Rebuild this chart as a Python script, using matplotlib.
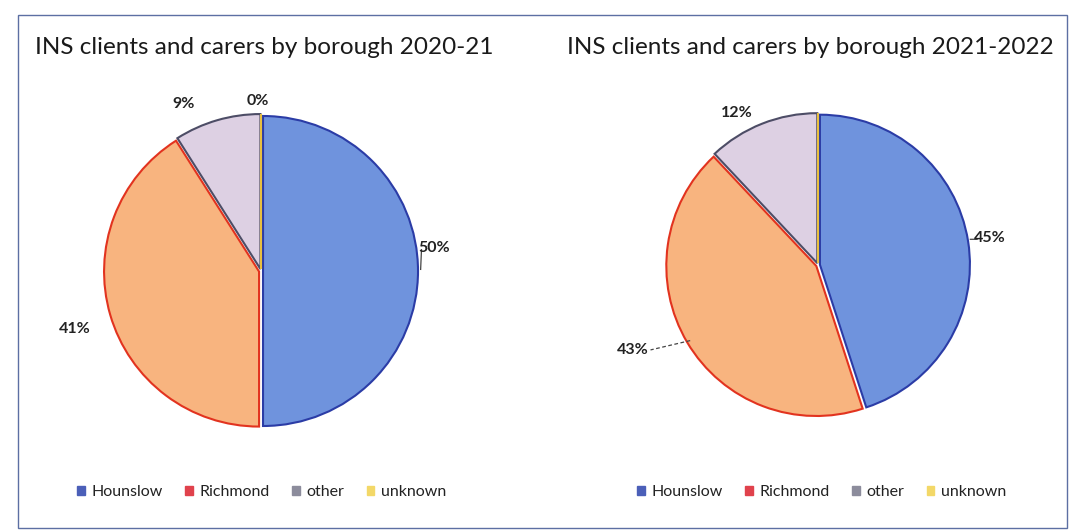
import numpy as np
import matplotlib
matplotlib.use("Agg")
import matplotlib.pyplot as plt
from matplotlib.patches import Patch, Rectangle

categories = ["Hounslow", "Richmond", "other", "unknown"]
titles = ["INS clients and carers by borough 2020-21",
          "INS clients and carers by borough 2021-2022"]
values_2020 = [50, 41, 9, 0]
values_2021 = [45, 43, 12, 0]
labels_2020 = ["50%", "41%", "9%", "0%"]
labels_2021 = ["45%", "43%", "12%", ""]

face_colors = ["#6f93dd", "#f8b47f", "#ddd0e3", "#f7dc7a"]
edge_colors = ["#2b3ca6", "#e2331f", "#4d4d66", "#e8c040"]
legend_colors = ["#4b5fb8", "#e0424c", "#8c8c9c", "#f3d868"]

W, H = 1070, 530
fig = plt.figure(figsize=(W / 100, H / 100), dpi=100)
plt.rcParams['font.family'] = ['Lato', 'DejaVu Sans']

# outer frame
fig.patches.append(Rectangle((18 / W, 2 / H), (1067 - 18) / W, (515 - 2) / H,
                             transform=fig.transFigure, fill=False,
                             edgecolor="#5c6fa3", linewidth=1.0))

pies = [
    dict(values=values_2020, labels=labels_2020, title=titles[0],
         cx=261, cy=271, r=155, title_x=35,
         ldist=[1.13, 1.26, 1.19, 1.1], lshift=[7.5, 1, 8.6, 1],
         leader=[True, False, False, False], legend_x=262),
    dict(values=values_2021, labels=labels_2021, title=titles[1],
         cx=818, cy=265, r=150, title_x=567,
         ldist=[1.16, 1.36, 1.15, 1.1], lshift=[0, -6, 6.4, 0],
         leader=[True, True, False, False], legend_x=822),
]

for p in pies:
    half = 230
    ax = fig.add_axes([(p["cx"] - half) / W, (H - p["cy"] - half) / H,
                       2 * half / W, 2 * half / H])
    lim = half / p["r"]
    wedges, _ = ax.pie(p["values"], startangle=90, counterclock=False,
                       colors=face_colors, explode=[0.013] * 4,
                       wedgeprops=dict(linewidth=1.5))
    for w, ec in zip(wedges, edge_colors):
        w.set_edgecolor(ec)
    ax.set_xlim(-lim, lim)
    ax.set_ylim(-lim, lim)
    ax.set_aspect("equal")
    ax.axis("off")
    for w, lab, d, sh, ld in zip(wedges, p["labels"], p["ldist"], p["lshift"], p["leader"]):
        if not lab:
            continue
        mid = np.deg2rad((w.theta1 + w.theta2) / 2 + sh)
        tx, ty = d * np.cos(mid), d * np.sin(mid)
        ax.text(tx, ty, lab, ha="center", va="center", fontsize=11.5,
                color="#222222", fontweight="bold")
        if ld:
            m0 = np.deg2rad((w.theta1 + w.theta2) / 2)
            right = np.cos(mid) > 0
            if right:
                ex, ey = 1.03 * np.cos(m0 + 0.01), 1.03 * np.sin(m0 + 0.01)
                sx, sy = tx - 0.085, ty - 0.01
            else:
                ex, ey = 0.99 * np.cos(m0), 0.99 * np.sin(m0)
                sx, sy = tx + 0.12, ty
            ax.plot([ex, sx], [ey, sy], color="#444444", linewidth=0.9,
                    linestyle="-" if right else (0, (3, 2)))
    fig.text(p["title_x"] / W, 1 - 48 / H, p["title"], fontsize=17.5,
             color="#1a1a1a", ha="left", va="center")
    handles = [Patch(facecolor=c, edgecolor=c) for c in legend_colors]
    fig.legend(handles, categories, loc="center",
               bbox_to_anchor=(p["legend_x"] / W, 1 - 492 / H), ncol=4,
               frameon=False, fontsize=11.5, handlelength=0.45, handleheight=0.45,
               handletextpad=0.45, columnspacing=1.4, labelcolor="#222222")

fig.savefig("out.png", dpi=100, facecolor="white")
